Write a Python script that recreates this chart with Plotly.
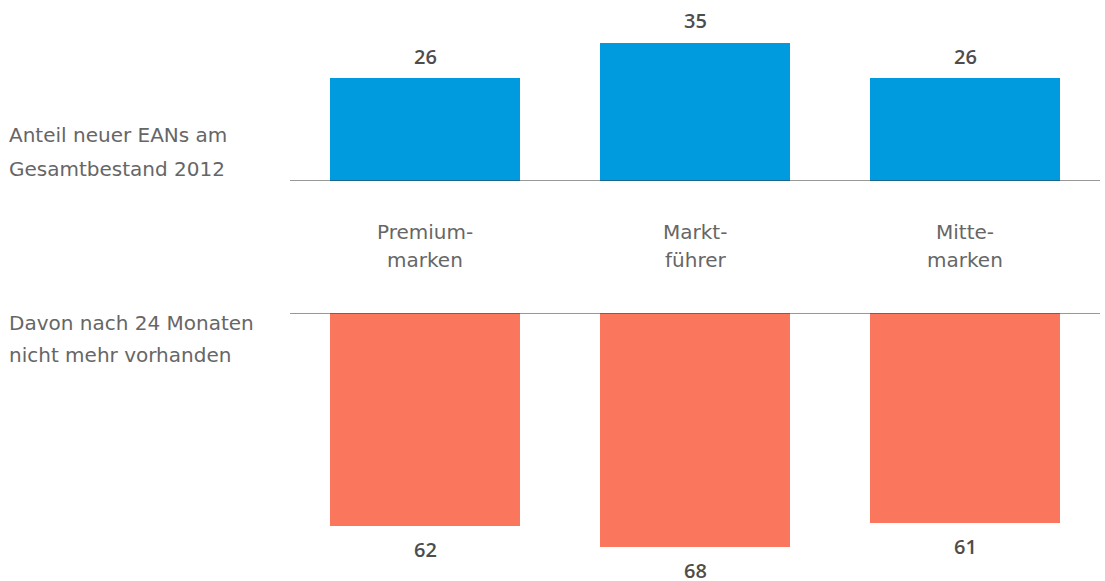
import plotly.graph_objects as go

categories = [["Premium-", "marken"], ["Markt-", "führer"], ["Mitte-", "marken"]]
top_values = [26, 35, 26]
bottom_values = [62, 68, 61]
top_label = ["Anteil neuer EANs am", "Gesamtbestand 2012"]
bottom_label = ["Davon nach 24 Monaten", "nicht mehr vorhanden"]

W, H = 1105, 581
FONT = "DejaVu Sans"
NUMFONT = "Open Sans"
xs = list(range(len(categories)))

def py(pix):
    return 1 - pix / H

fig = go.Figure()
fig.add_trace(go.Bar(x=xs, y=top_values, width=0.7037, marker=dict(color="#009ADE", line=dict(width=0)),
                     xaxis="x", yaxis="y", hoverinfo="skip"))
fig.add_trace(go.Bar(x=xs, y=bottom_values, width=0.7037, marker=dict(color="#FA765C", line=dict(width=0)),
                     xaxis="x2", yaxis="y2", hoverinfo="skip"))

top_px_per_unit = 3.95
bot_px_per_unit = 3.44

x_dom = [290 / W, 1100 / W]
fig.update_layout(
    width=W, height=H,
    margin=dict(l=0, r=0, t=0, b=0),
    paper_bgcolor="white", plot_bgcolor="white",
    showlegend=False,
    bargap=0,
    font=dict(family=FONT, color="#666666", size=18),
    xaxis=dict(domain=x_dom, range=[-0.5, 2.5], anchor="y", showgrid=False, zeroline=False,
               showticklabels=False, showline=False, fixedrange=True),
    yaxis=dict(domain=[py(181), 1], range=[0, 181 / top_px_per_unit], showgrid=False,
               zeroline=False, showticklabels=False, showline=False),
    xaxis2=dict(domain=x_dom, range=[-0.5, 2.5], anchor="y2", showgrid=False, zeroline=False,
                showticklabels=False, showline=False),
    yaxis2=dict(domain=[0, py(313)], range=[(H - 313) / bot_px_per_unit, 0], showgrid=False,
                zeroline=False, showticklabels=False, showline=False),
)

# baselines
fig.add_shape(type="line", xref="x", yref="y", x0=-0.5, x1=2.5, y0=0, y1=0,
              line=dict(color="#333333", width=1.2))
fig.add_shape(type="line", xref="x2", yref="y2", x0=-0.5, x1=2.5, y0=0, y1=0,
              line=dict(color="#333333", width=1.2))

numfont = dict(size=20, color="#4d4d4d", family=NUMFONT, weight=600)
lblfont = dict(size=20, color="#666666", family=FONT)
ann = []
for i, v in enumerate(top_values):
    ann.append(dict(x=i, y=v, xref="x", yref="y", text=str(v), showarrow=False,
                    yanchor="middle", yshift=22.5, height=18, font=numfont))
for i, v in enumerate(bottom_values):
    ann.append(dict(x=i, y=v, xref="x2", yref="y2", text=str(v), showarrow=False,
                    yanchor="middle", yshift=-23, height=18, font=numfont))
for i, lines in enumerate(categories):
    for j, t in enumerate(lines):
        ann.append(dict(x=i, y=py(232 + 28 * j), xref="x", yref="paper", text=t, showarrow=False,
                        yanchor="middle", font=lblfont))
for j, t in enumerate(top_label):
    ann.append(dict(x=7 / W, y=py(135 + 34 * j), xref="paper", yref="paper", text=t, showarrow=False,
                    xanchor="left", yanchor="middle", align="left", font=lblfont))
for j, t in enumerate(bottom_label):
    ann.append(dict(x=7 / W, y=py(323 + 32 * j), xref="paper", yref="paper", text=t, showarrow=False,
                    xanchor="left", yanchor="middle", align="left", font=lblfont))
fig.update_layout(annotations=ann)

fig.write_html("out.html", config=dict(displayModeBar=False))
